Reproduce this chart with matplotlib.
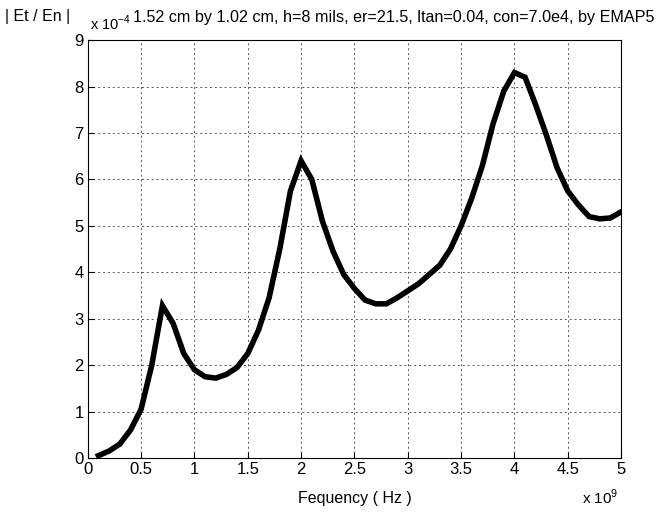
import matplotlib.pyplot as plt
import numpy as np

plt.rcParams['font.family'] = ['Liberation Sans', 'DejaVu Sans']

# frequency in units of 1e9 Hz, |Et/En| in units of 1e-4
freq = [0.1, 0.2, 0.3, 0.4, 0.5, 0.6, 0.7, 0.8, 0.9, 1.0,
        1.1, 1.2, 1.3, 1.4, 1.5, 1.6, 1.7, 1.8, 1.9, 2.0,
        2.1, 2.2, 2.3, 2.4, 2.5, 2.6, 2.7, 2.8, 2.9, 3.0,
        3.1, 3.2, 3.3, 3.4, 3.5, 3.6, 3.7, 3.8, 3.9, 4.0,
        4.1, 4.2, 4.3, 4.4, 4.5, 4.6, 4.7, 4.8, 4.9, 5.0]
ratio = [0.05, 0.15, 0.3, 0.6, 1.05, 2.0, 3.28, 2.9, 2.25, 1.9,
         1.75, 1.72, 1.8, 1.95, 2.25, 2.75, 3.45, 4.5, 5.75, 6.4,
         6.0, 5.1, 4.45, 3.95, 3.65, 3.4, 3.32, 3.32, 3.45, 3.6,
         3.75, 3.95, 4.15, 4.5, 5.0, 5.6, 6.3, 7.2, 7.9, 8.3,
         8.2, 7.6, 6.95, 6.25, 5.75, 5.45, 5.2, 5.15, 5.17, 5.3]

xticks = np.arange(0, 5.01, 0.5)
xticklabels = ['0', '0.5', '1', '1.5', '2', '2.5', '3', '3.5', '4', '4.5', '5']
yticks = np.arange(0, 10)

fig = plt.figure(figsize=(6.7, 5.14), dpi=100)
ax = fig.add_axes([0.131, 0.109, 0.796, 0.813])

ax.plot(freq, ratio, color='black', lw=4.0, solid_joinstyle='miter')

ax.set_xlim(0, 5)
ax.set_ylim(0, 9)
ax.set_xticks(xticks)
ax.set_xticklabels(xticklabels)
ax.set_yticks(yticks)
ax.tick_params(direction='in', length=4, labelsize=12, pad=3)
ax.grid(True, color='#555555', linestyle=(0, (2, 3)), linewidth=0.7)
for s in ax.spines.values():
    s.set_linewidth(0.8)

ax.set_xlabel('Fequency ( Hz )', fontsize=11.5, labelpad=10)

fig.text(0.008, 0.968, '| Et / En |', fontsize=11.5, va='center', ha='left')
fig.text(0.134, 0.955, r'x 10$^{\mathregular{-4}}$', fontsize=10.5, va='center', ha='left')
fig.text(0.199, 0.965, '1.52 cm by 1.02 cm, h=8 mils, er=21.5, ltan=0.04, con=7.0e4, by EMAP5',
         fontsize=11.6, va='center', ha='left')
fig.text(0.868, 0.032, r'x 10$^{\mathregular{9}}$', fontsize=11, va='center', ha='left')

fig.savefig('out.png', dpi=100)
